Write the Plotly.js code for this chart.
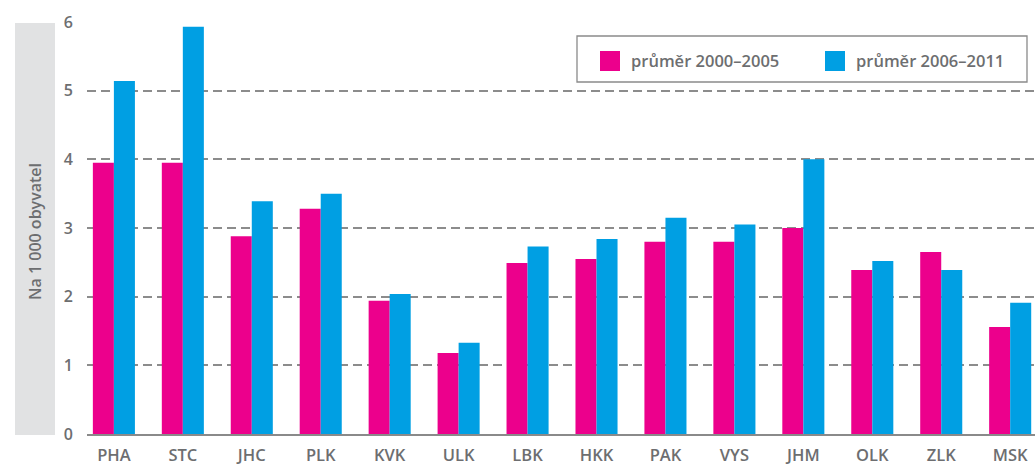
<!DOCTYPE html>
<html>
<head>
<meta charset="utf-8">
<script src="https://cdn.plot.ly/plotly-3.0.1.min.js"></script>
<style>html,body{margin:0;padding:0;background:#fff;}#chart{width:1035px;height:466px;}</style>
</head>
<body>
<div id="chart"></div>
<script>
const categories = ["PHA","STC","JHC","PLK","KVK","ULK","LBK","HKK","PAK","VYS","JHM","OLK","ZLK","MSK"];
const series1Name = "průměr 2000–2005";
const series1 = [3.95, 3.95, 2.88, 3.28, 1.94, 1.18, 2.49, 2.55, 2.80, 2.80, 3.00, 2.39, 2.65, 1.56];
const series2Name = "průměr 2006–2011";
const series2 = [5.14, 5.93, 3.39, 3.50, 2.04, 1.33, 2.73, 2.84, 3.15, 3.05, 4.00, 2.52, 2.39, 1.91];
const yTitle = "Na 1 000 obyvatel";
const yTicks = [0,1,2,3,4,5,6];

const PINK = "#EC008C", BLUE = "#009FE3", GREY = "#6d6e70";
const FONT = "Open Sans, sans-serif";

// layout geometry (pixels)
const W = 1035, H = 466, L = 87, R = 0, T = 22, B = 32;
const pw = W - L - R, ph = H - T - B;
const px = x => (x - L) / pw;
const py = y => (H - B - y) / ph;

const traces = [
  {type:"bar", name:series1Name, x:categories, y:series1, marker:{color:PINK}, hoverinfo:"x+y"},
  {type:"bar", name:series2Name, x:categories, y:series2, marker:{color:BLUE}, hoverinfo:"x+y"}
];

const layout = {
  width: W, height: H,
  margin: {l:L, r:R, t:T, b:B, pad:0},
  paper_bgcolor: "#fff", plot_bgcolor: "#fff",
  showlegend: false,
  barmode: "group", bargap: 0.39, bargroupgap: 0,
  font: {family: FONT, color: GREY, size: 14},
  xaxis: {
    type: "category", range: [-0.39, 13.36],
    showline: true, linecolor: "#8a8a8a", linewidth: 1.5,
    showgrid: false, ticks: "", ticklabelstandoff: 6,
    tickfont: {family: FONT, size: 16.5, color: GREY, weight: 600}
  },
  yaxis: {
    range: [0, 6], tickvals: yTicks, ticktext: yTicks.map(String),
    showgrid: true, gridcolor: "#8c8c8c", gridwidth: 1.7, griddash: "9px,5px",
    zeroline: false, showline: false, ticks: "", ticklabelstandoff: 13,
    tickfont: {family: FONT, size: 16, color: GREY, weight: 600}
  },
  shapes: [
    {type:"rect", xref:"paper", yref:"paper", x0:px(15), x1:px(55), y0:py(435), y1:py(23),
     fillcolor:"#e1e2e3", line:{width:0}, layer:"below"},
    {type:"rect", xref:"paper", yref:"paper", x0:px(577), x1:px(1027), y0:py(82), y1:py(36),
     fillcolor:"#ffffff", line:{color:"#8a8a8a", width:1.3}, layer:"above"},
    {type:"rect", xref:"paper", yref:"paper", x0:px(600), x1:px(620), y0:py(71), y1:py(51),
     fillcolor:PINK, line:{width:0}, layer:"above"},
    {type:"rect", xref:"paper", yref:"paper", x0:px(825), x1:px(845), y0:py(71), y1:py(51),
     fillcolor:BLUE, line:{width:0}, layer:"above"}
  ],
  annotations: [
    {xref:"paper", yref:"paper", x:px(35), y:py(232), text:yTitle, textangle:-90, showarrow:false,
     xanchor:"center", yanchor:"middle", font:{family:FONT, size:16, color:GREY, weight:600}},
    {xref:"paper", yref:"paper", x:px(629), y:py(61), text:series1Name, showarrow:false,
     xanchor:"left", yanchor:"middle", font:{family:FONT, size:16.5, color:GREY, weight:600}},
    {xref:"paper", yref:"paper", x:px(854), y:py(61), text:series2Name, showarrow:false,
     xanchor:"left", yanchor:"middle", font:{family:FONT, size:16.5, color:GREY, weight:600}}
  ]
};

Plotly.newPlot("chart", traces, layout, {displayModeBar:false, staticPlot:true});
</script>
</body>
</html>
